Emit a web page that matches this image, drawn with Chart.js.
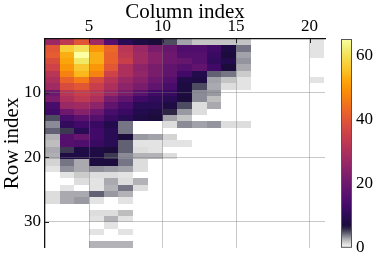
<!DOCTYPE html>
<html>
<head>
<meta charset="utf-8">
<script src="https://cdn.jsdelivr.net/npm/chart.js@4"></script>
<style>
  html, body { margin: 0; padding: 0; background: #fff; overflow: hidden; }
  canvas { display: block; }
</style>
</head>
<body>
<canvas id="heat" width="374" height="262"></canvas>
<script>
// ---- data ----
const colIndex = [2, 3, 4, 5, 6, 7, 8, 9, 10, 11, 12, 13, 14, 15, 16, 17, 18, 19, 20];
const rowIndex = [2, 3, 4, 5, 6, 7, 8, 9, 10, 11, 12, 13, 14, 15, 16, 17, 18, 19, 20, 21, 22, 23, 24, 25, 26, 27, 28, 29, 30, 31, 32, 33, 34];
const values = [
  [27, 33, 40, 28, 16, 10, 8, 7, 5, 3, 2, 2, 2, 2, 0, 0, 0, 0, 1],
  [40, 57, 60, 50, 43, 32, 27, 22, 19, 15, 15, 13, 8, 4, 0, 0, 0, 0, 1],
  [41, 53, 65, 53, 42, 33, 28, 24, 20, 16, 16, 12, 7, 3, 0, 0, 0, 0, 1],
  [38, 52, 61, 53, 42, 35, 28, 24, 20, 19, 16, 11, 9, 3.3, 0, 0, 0, 0, 0],
  [36, 50, 56, 50, 40, 30, 25, 22, 18, 16, 18, 13, 7, 2.8, 0, 0, 0, 0, 0],
  [32, 47, 54, 47, 36, 30, 26, 22, 18, 13, 9, 4.5, 4, 1.8, 0, 0, 0, 0, 0],
  [30, 42, 46, 38, 32, 27, 24, 20, 16, 8.5, 8, 3, 2, 1, 0, 0, 0, 0, 1],
  [28, 38, 40, 35, 30, 25, 22, 18, 14, 7.5, 5, 2.8, 1.2, 1, 0, 0, 0, 0, 0],
  [20, 32, 35, 32, 27, 22, 17, 13, 12, 7.5, 3.5, 3.2, 0, 0, 0, 0, 0, 0, 0],
  [22, 30, 33, 30, 22, 18, 13, 11, 10, 7, 3.5, 2.2, 0, 0, 0, 0, 0, 0, 0],
  [14, 27, 28, 25, 18, 14, 10, 10, 8, 5, 1.2, 2.8, 0, 0, 0, 0, 0, 0, 0],
  [13, 20, 24, 20, 14, 12, 9, 8, 6, 3.2, 1.2, 0, 0, 0, 0, 0, 0, 0, 0],
  [5, 14, 17, 16, 12, 10, 8, 7, 3, 2, 0, 0, 0, 0, 0, 0, 0, 0, 0],
  [3.5, 11, 13, 12, 9, 4, 0, 0, 1.2, 3.5, 3, 3.3, 1.2, 1.2, 0, 0, 0, 0, 0],
  [4.5, 5.5, 10, 13, 10, 4, 0, 0, 0, 0, 0, 0, 0, 0, 0, 0, 0, 0, 0],
  [2.5, 16, 19, 13, 10, 7, 3.2, 3, 1.5, 0, 0, 0, 0, 0, 0, 0, 0, 0, 0],
  [2.2, 16, 15, 12, 10, 4.5, 1, 1, 1, 1, 0, 0, 0, 0, 0, 0, 0, 0, 0],
  [2.8, 5.5, 8, 8, 7, 4.5, 1.2, 1, 0, 0, 0, 0, 0, 0, 0, 0, 0, 0, 0],
  [2.6, 8, 8, 8, 5.5, 3.5, 2.5, 2.5, 1.2, 0, 0, 0, 0, 0, 0, 0, 0, 0, 0],
  [1.5, 4, 2.8, 7.5, 7.5, 4, 1.2, 0, 0, 0, 0, 0, 0, 0, 0, 0, 0, 0, 0],
  [1, 3.4, 2.8, 3.4, 3.2, 3, 1.2, 0, 0, 0, 0, 0, 0, 0, 0, 0, 0, 0, 0],
  [0, 1, 1.8, 1.2, 1.2, 1, 0, 0, 0, 0, 0, 0, 0, 0, 0, 0, 0, 0, 0],
  [0, 0, 1.2, 1, 2.8, 1.2, 2.5, 0, 0, 0, 0, 0, 0, 0, 0, 0, 0, 0, 0],
  [0, 1, 0, 1, 2.5, 4, 1.2, 0, 0, 0, 0, 0, 0, 0, 0, 0, 0, 0, 0],
  [1.2, 2.8, 2.8, 4.5, 3.2, 2.5, 0, 0, 0, 0, 0, 0, 0, 0, 0, 0, 0, 0, 0],
  [1.2, 2.8, 3.2, 1, 0, 1, 0, 0, 0, 0, 0, 0, 0, 0, 0, 0, 0, 0, 0],
  [0, 0, 0, 0, 0, 0, 0, 0, 0, 0, 0, 0, 0, 0, 0, 0, 0, 0, 0],
  [0, 0, 0, 1.2, 1.2, 2.2, 0, 0, 0, 0, 0, 0, 0, 0, 0, 0, 0, 0, 0],
  [0, 0, 0, 1, 2.5, 1, 0, 0, 0, 0, 0, 0, 0, 0, 0, 0, 0, 0, 0],
  [0, 0, 0, 0, 1, 0, 0, 0, 0, 0, 0, 0, 0, 0, 0, 0, 0, 0, 0],
  [0, 0, 0, 1, 0, 1, 0, 0, 0, 0, 0, 0, 0, 0, 0, 0, 0, 0, 0],
  [0, 0, 0, 0, 0, 0, 0, 0, 0, 0, 0, 0, 0, 0, 0, 0, 0, 0, 0],
  [0, 0, 0, 2.5, 2.5, 2.5, 0, 0, 0, 0, 0, 0, 0, 0, 0, 0, 0, 0, 0]
];
const xTicks = [5, 10, 15, 20];
const yTicks = [10, 20, 30];
const cbTicks = [0, 20, 40, 60];
const vMax = 65;

// grey ramp for small counts, then inferno
const cmap = [
  [0.000, '#f7f7f7'], [0.015, '#e4e4e4'], [0.031, '#c4c4c4'], [0.046, '#a2a2aa'],
  [0.062, '#747484'], [0.077, '#4e4c60'], [0.092, '#2e2644'], [0.108, '#1b0c3c'],
  [0.15, '#280b54'], [0.2, '#420a68'], [0.25, '#57106e'], [0.3, '#6a176e'],
  [0.35, '#7f1e6c'], [0.4, '#932667'], [0.45, '#a82e5f'], [0.5, '#bc3754'],
  [0.55, '#cc4248'], [0.6, '#dd513a'], [0.65, '#ea632a'], [0.7, '#f37819'],
  [0.75, '#f98e09'], [0.8, '#fca50a'], [0.85, '#fac228'], [0.9, '#f6d746'],
  [0.95, '#f1ed71'], [1.0, '#fcffa4']
];

const FONT = "'Liberation Serif', 'Times New Roman', serif";

function hex(h) { return [1, 3, 5].map(i => parseInt(h.substr(i, 2), 16)); }
function colorFor(v) {
  const t = Math.max(0, Math.min(1, v / vMax));
  for (let i = 1; i < cmap.length; i++) {
    if (t <= cmap[i][0]) {
      const [t0, c0] = cmap[i - 1], [t1, c1] = cmap[i];
      const f = (t - t0) / (t1 - t0);
      const a = hex(c0), b = hex(c1);
      return `rgb(${a.map((x, k) => Math.round(x + (b[k] - x) * f)).join(',')})`;
    }
  }
  return cmap[cmap.length - 1][1];
}

// y axis limits as in the picture
const yMin = 1.7, yMax = 34.07;
const rowStep = (yMax - yMin) / rowIndex.length;

const heatmapPlugin = {
  id: 'heatmap',
  beforeDraw(chart) {
    const { ctx, scales: { x, y } } = chart;
    ctx.save();
    rowIndex.forEach((r, i) => {
      const y0 = Math.round(y.getPixelForValue(yMin + i * rowStep));
      const y1 = Math.round(y.getPixelForValue(yMin + (i + 1) * rowStep));
      colIndex.forEach((c, j) => {
        const v = values[i][j];
        if (!v) return;
        const x0 = Math.round(x.getPixelForValue(c));
        const x1 = Math.round(x.getPixelForValue(c + 1));
        ctx.fillStyle = colorFor(v);
        ctx.fillRect(x0, y0, x1 - x0, y1 - y0);
      });
    });
    ctx.restore();
  },
  afterDraw(chart) {
    const { ctx, chartArea: a, scales: { x, y, cb } } = chart;
    ctx.save();
    // inward tick marks
    ctx.strokeStyle = '#222';
    ctx.lineWidth = 1;
    xTicks.forEach(t => {
      const px = Math.round(x.getPixelForValue(t)) + 0.5;
      ctx.beginPath(); ctx.moveTo(px, a.top); ctx.lineTo(px, a.top + 4); ctx.stroke();
    });
    yTicks.forEach(t => {
      const py = Math.round(y.getPixelForValue(t)) + 0.5;
      ctx.beginPath(); ctx.moveTo(a.left, py); ctx.lineTo(a.left + 4, py); ctx.stroke();
    });
    // colour bar, just left of its tick labels
    const bw = 11, bx = cb.left - 15;
    const top = cb.getPixelForValue(vMax), bot = cb.getPixelForValue(0);
    const g = ctx.createLinearGradient(0, bot, 0, top);
    cmap.forEach(([t, c]) => g.addColorStop(t, c));
    ctx.fillStyle = g;
    ctx.fillRect(bx, top, bw, bot - top);
    ctx.strokeStyle = '#555';
    ctx.strokeRect(bx + 0.5, top + 0.5, bw - 1, bot - top - 1);
    ctx.restore();
  }
};

const gridOpts = { color: 'rgba(120,120,120,0.4)', lineWidth: 1, drawTicks: false };

new Chart(document.getElementById('heat'), {
  type: 'scatter',
  data: { datasets: [] },
  plugins: [heatmapPlugin],
  options: {
    responsive: false, animation: false, devicePixelRatio: 1,
    layout: { padding: { left: 0, right: 0, top: 0, bottom: 11 } },
    plugins: { legend: { display: false }, tooltip: { enabled: false } },
    scales: {
      x: {
        type: 'linear', position: 'top', min: 2, max: 21.05,
        afterBuildTicks: s => { s.ticks = xTicks.map(v => ({ value: v })); },
        afterFit: s => { s.height = 39; },
        grid: gridOpts,
        border: { color: '#111', width: 1.3 },
        ticks: { color: '#000', font: { family: FONT, size: 17 }, padding: 2, maxRotation: 0 },
        title: { display: true, text: 'Column index', color: '#000', font: { family: FONT, size: 21 }, padding: 0 }
      },
      y: {
        type: 'linear', position: 'left', reverse: true, min: yMin, max: yMax,
        afterBuildTicks: s => { s.ticks = yTicks.map(v => ({ value: v })); },
        afterFit: s => { s.width = 45; },
        grid: gridOpts,
        border: { color: '#111', width: 1.3 },
        ticks: { color: '#000', font: { family: FONT, size: 17 }, padding: 4 },
        title: { display: true, text: 'Row index', color: '#000', font: { family: FONT, size: 21 }, padding: 0 }
      },
      // empty strip between the plot and the colour bar labels
      gap: {
        type: 'linear', position: 'right', min: 0, max: 1,
        afterFit: s => { s.width = 31; },
        grid: { display: false, drawTicks: false },
        border: { display: false },
        ticks: { display: false }
      },
      cb: {
        type: 'linear', position: 'right', min: 0, max: vMax,
        afterBuildTicks: s => { s.ticks = cbTicks.map(v => ({ value: v })); },
        afterFit: s => { s.width = 18; },
        grid: { display: false, drawTicks: false },
        border: { display: false },
        ticks: { color: '#000', font: { family: FONT, size: 17 }, padding: 0 }
      }
    }
  }
});
</script>
</body>
</html>
